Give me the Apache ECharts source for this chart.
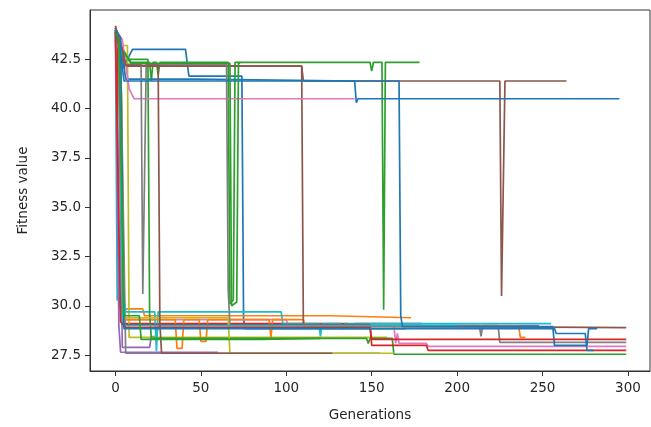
<!DOCTYPE html>
<html>
<head>
<meta charset="utf-8">
<script src="https://cdn.jsdelivr.net/npm/echarts@6/dist/echarts.min.js"></script>
<style>
  html, body { margin: 0; padding: 0; background: #fff; }
  #charts { width: 651px; height: 427px; }
</style>
</head>
<body>
<div id="charts"></div>
<script>
// tick labels
var xTicks = [0, 50, 100, 150, 200, 250, 300];
var yTicks = [27.5, 30.0, 32.5, 35.0, 37.5, 40.0, 42.5];

// each run: [generation, best fitness] at the generations where it changes
var runBlueTop = [[0,44.0],[2,43.7],[4,42.0],[10,43.0],[41,43.0],[43,41.65],[74,41.65],[75,29.3],[76,28.85],[170,28.85]];
var runBlueLong = [[0,44.1],[3,43.4],[6,41.5],[47,41.5],[48,41.4],[140,41.4],[141,40.3],[142,40.5],[175,40.5],[176,40.4],[177,40.5],[295,40.5]];
var runBlueMid = [[0,43.9],[2,43.5],[5,41.4],[166,41.4],[167,29.5],[168,28.95],[256,28.95],[257,28.0],[276,28.0],[277,28.85],[282,28.85]];
var runBrownTop = [[0,44.0],[3,43.2],[5,42.15],[109,42.15],[110,41.4],[225,41.4],[226,30.5],[228,41.4],[235,41.4],[236,41.3],[237,41.4],[264,41.4]];
var runBrownDrop = [[0,43.8],[3,42.8],[6,42.15],[109,42.15],[110,29.0],[111,28.9],[299,28.9]];
var runBrownEarly = [[0,44.1],[4,43.0],[6,42.2],[25,42.2],[26,29.1],[27,27.6],[127,27.6]];
var runGreenTop = [[0,44.1],[3,43.2],[9,42.35],[20,42.35],[21,41.4],[22,42.35],[24,42.35],[25,41.7],[26,42.35],[66,42.35],[67,30.1],[69,30.3],[70,42.35],[149,42.35],[150,41.9],[151,42.35],[156,42.35],[157,29.8],[158,42.35],[178,42.35]];
var runGreenMid = [[0,44.0],[3,43.1],[9,42.3],[67,42.3],[68,30.0],[71,30.2],[72,42.3],[73,42.3]];
var runGreenLow = [[0,43.9],[3,43.0],[8,42.5],[19,42.5],[20,29.6],[21,28.35],[147,28.35],[148,28.1],[149,28.35],[162,28.35],[163,27.55],[299,27.55]];
var runPinkTop = [[0,44.0],[4,43.5],[8,41.0],[11,40.5],[140,40.5]];
var runGrayTop = [[0,44.1],[3,43.3],[6,42.25],[15,42.25],[16,30.6],[18,42.25],[65,42.25],[66,30.8],[67,29.0],[213,29.0],[214,28.45],[215,29.0],[224,29.0],[225,28.15],[299,28.15]];
var runOrangeA = [[0,44.0],[2,43.6],[4,29.85],[16,29.85],[17,29.5],[126,29.5],[127,29.4],[173,29.4]];
var runOrangeB = [[0,43.9],[3,43.3],[5,29.3],[35,29.3],[36,27.85],[39,27.85],[40,29.3],[49,29.3],[50,28.2],[53,28.2],[54,29.3],[90,29.3],[91,28.35],[92,29.3],[110,29.3],[111,28.95],[236,28.95],[237,28.4],[240,28.4]];
var runRedA = [[0,44.2],[1,43.8],[2,30.5],[4,29.1],[136,29.1],[137,28.9],[139,28.9],[140,29.1],[179,29.1]];
var runPurpleA = [[0,44.0],[2,43.4],[4,27.9],[20,27.9],[21,28.45],[24,28.45],[25,29.0],[248,29.0]];
var runCyanA = [[0,44.0],[1,30.3],[5,30.3],[6,29.7],[23,29.7],[24,27.7],[25,29.7],[97,29.7],[98,29.1],[119,29.1],[120,28.45],[121,29.1],[132,29.1],[133,28.8],[134,29.1],[255,29.1]];
var runOliveA = [[0,44.0],[2,43.2],[7,43.2],[8,28.4],[159,28.4]];
var runOliveB = [[0,43.9],[3,43.5],[5,29.4],[66,29.4],[67,27.6],[163,27.6]];
var runPinkLow = [[0,44.0],[2,43.0],[3,29.3],[100,29.3],[101,29.0],[163,29.0],[164,28.1],[165,28.6],[166,28.1],[182,28.1],[183,27.95],[299,27.95]];
var runRedB = [[0,44.1],[2,43.5],[4,29.05],[149,29.05],[150,28.0],[182,28.0],[183,27.75],[299,27.75]];
var runRedC = [[0,43.9],[3,29.2],[6,28.9],[149,28.9],[150,28.3],[299,28.3]];
var runGrayLow = [[0,44.0],[3,43.0],[6,27.6],[155,27.6]];
var runPurpleB = [[0,44.0],[2,29.0],[3,27.65],[60,27.65]];
var runBlueLow = [[0,44.0],[3,43.6],[5,28.85],[257,28.85],[258,28.6],[275,28.6],[276,27.75],[280,27.75]];
var runGreenB = [[0,43.8],[2,43.4],[5,29.5],[14,29.5],[15,28.3],[85,28.3],[86,28.35],[120,28.35]];
var runCyanB = [[0,44.1],[2,43.6],[4,29.0],[200,29.0]];

var runs = [runBlueTop, runOrangeA, runGreenTop, runRedA, runPurpleA, runBrownTop, runPinkLow, runGrayLow, runOliveA, runCyanA,
            runBlueLong, runOrangeB, runGreenLow, runRedB, runPurpleB, runBrownDrop, runPinkTop, runGrayTop, runOliveB, runCyanB,
            runBlueMid, runGreenMid, runRedC, runBrownEarly, runBlueLow, runGreenB];
var runColors = ['#1f77b4', '#ff7f0e', '#2ca02c', '#d62728', '#9467bd', '#8c564b', '#e377c2', '#7f7f7f', '#bcbd22', '#17becf',
                 '#1f77b4', '#ff7f0e', '#2ca02c', '#d62728', '#9467bd', '#8c564b', '#e377c2', '#7f7f7f', '#bcbd22', '#17becf',
                 '#1f77b4', '#2ca02c', '#d62728', '#8c564b', '#1f77b4', '#2ca02c'];

var chart = echarts.init(document.getElementById('charts'));
var textColor = '#262626';
var font = 'DejaVu Sans';

var series = runs.map(function(run, i) {
    return {
        type: 'line',
        data: run,
        showSymbol: false,
        symbol: 'none',
        lineStyle: { color: runColors[i], width: 1.7 },
        itemStyle: { color: runColors[i] },
        z: 2 + i / 100
    };
});

chart.setOption({
    animation: false,
    backgroundColor: '#fff',
    grid: {
        left: 90, right: 1, top: 10, bottom: 51,
        show: true,
        borderColor: '#333',
        borderWidth: 1,
        backgroundColor: 'rgba(0,0,0,0)'
    },
    xAxis: {
        type: 'value',
        min: -14.9,
        max: 312.9,
        name: 'Generations',
        nameLocation: 'middle',
        nameGap: 37,
        nameTextStyle: { color: textColor, fontSize: 13.5, fontFamily: font },
        axisLine: { show: true, onZero: false, lineStyle: { color: '#333', width: 1 } },
        axisTick: { show: true, inside: false, length: 5, lineStyle: { color: '#333' }, customValues: xTicks },
        axisLabel: { color: textColor, fontSize: 13.5, fontFamily: font, margin: 10, customValues: xTicks },
        splitLine: { show: false }
    },
    yAxis: {
        type: 'value',
        min: 26.7,
        max: 45.0,
        name: 'Fitness value',
        nameLocation: 'middle',
        nameGap: 60,
        nameTextStyle: { color: textColor, fontSize: 13.5, fontFamily: font },
        axisLine: { show: true, onZero: false, lineStyle: { color: '#333', width: 1 } },
        axisTick: { show: true, inside: false, length: 5, lineStyle: { color: '#333' }, customValues: yTicks },
        axisLabel: {
            color: textColor, fontSize: 13.5, fontFamily: font, margin: 9, customValues: yTicks,
            formatter: function(v) { return v.toFixed(1); }
        },
        splitLine: { show: false }
    },
    series: series
});
</script>
</body>
</html>
